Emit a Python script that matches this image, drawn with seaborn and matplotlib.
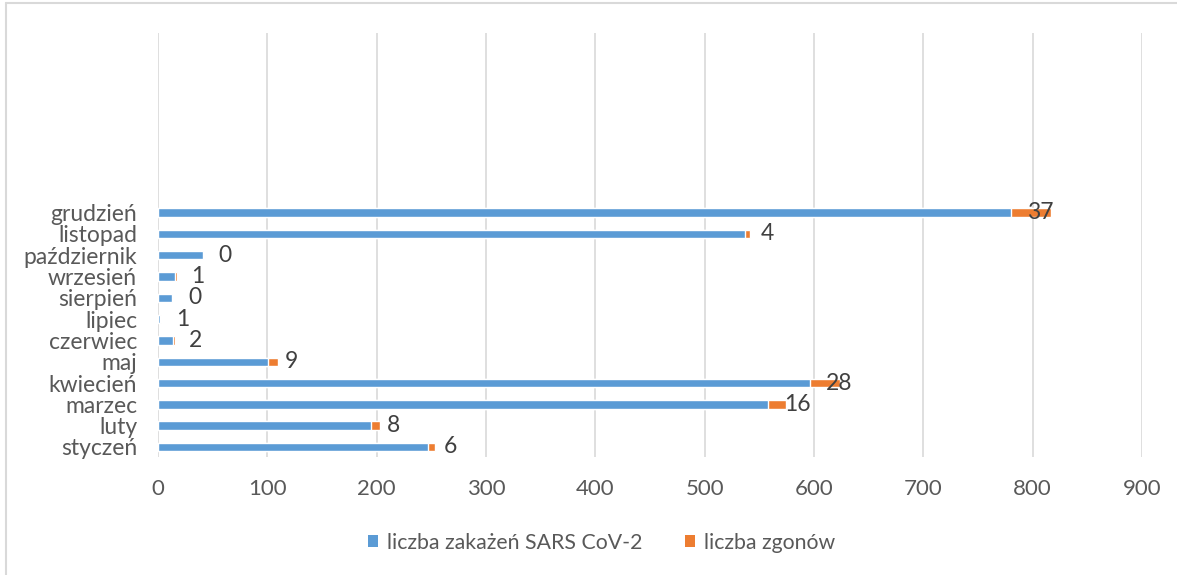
import matplotlib
matplotlib.use("Agg")
import matplotlib.pyplot as plt
import seaborn as sns
import pandas as pd
from matplotlib.patches import Patch
from matplotlib.lines import Line2D

months = ["styczeń", "luty", "marzec", "kwiecień", "maj", "czerwiec",
          "lipiec", "sierpień", "wrzesień", "październik", "listopad", "grudzień"]
infections = [247, 195, 558, 596, 101, 14, 2, 13, 16, 41, 537, 780]
deaths = [6, 8, 16, 28, 9, 2, 1, 0, 1, 0, 4, 37]
x_ticks = [0, 100, 200, 300, 400, 500, 600, 700, 800, 900]

BLUE = "#5B9BD5"
ORANGE = "#ED7D31"
TXT = "#595959"
GRID = "#D9D9D9"

sns.set_theme(style="white")
plt.rcParams["font.family"] = ["Lato", "DejaVu Sans"]

df = pd.DataFrame({"month": months, "infections": infections, "deaths": deaths})
df["total"] = df["infections"] + df["deaths"]
order = months[::-1]

fig = plt.figure(figsize=(11.77, 5.75), dpi=100)
ax = fig.add_axes([0.1342, 0.2052, 0.9703 - 0.1342, 0.9426 - 0.2052])

sns.barplot(data=df, y="month", x="total", order=order, orient="h",
            color=ORANGE, saturation=1, width=0.4, ax=ax, zorder=2)
sns.barplot(data=df, y="month", x="infections", order=order, orient="h",
            color=BLUE, saturation=1, width=0.4, ax=ax, zorder=3)

# data labels (deaths), positioned just after the blue segment
for i, m in enumerate(order):
    row = df[df["month"] == m].iloc[0]
    ax.annotate(str(row["deaths"]), xy=(row["infections"], i),
                xytext=(11.5, 0), textcoords="offset points",
                ha="left", va="center", fontsize=16.5, color="#404040", zorder=4)

n = len(months)
ax.set_xlim(0, 900)
ax.set_ylim(n - 1 + 0.47, n - 1 + 0.47 - 19.9)
ax.set_xticks(x_ticks)
ax.set_xticklabels([str(v) for v in x_ticks])
ax.tick_params(axis="x", labelsize=16, labelcolor=TXT, length=0, pad=16)
ax.tick_params(axis="y", labelsize=16.5, labelcolor=TXT, length=0, pad=15)
ax.set_xlabel("")
ax.set_ylabel("")
ax.xaxis.grid(True, color=GRID, linewidth=1.2, zorder=0)
ax.set_axisbelow(True)
for s in ax.spines.values():
    s.set_visible(False)

handles = [Patch(facecolor=BLUE, edgecolor="none", label="liczba zakażeń SARS CoV-2"),
           Patch(facecolor=ORANGE, edgecolor="none", label="liczba zgonów")]
fig.legend(handles=handles, loc="center", bbox_to_anchor=(0.511, 0.056),
           ncol=2, frameon=False, fontsize=15.3, handlelength=0.5, handleheight=0.5,
           handletextpad=0.4, columnspacing=2.0, labelcolor=TXT)

# outer chart border (left and top visible)
fig.add_artist(Line2D([0.0055, 0.0055], [0, 0.994], transform=fig.transFigure,
                      color=GRID, linewidth=1.5))
fig.add_artist(Line2D([0.0055, 1.0], [0.994, 0.994], transform=fig.transFigure,
                      color=GRID, linewidth=1.5))

fig.savefig("out.png", dpi=100, facecolor="white")
